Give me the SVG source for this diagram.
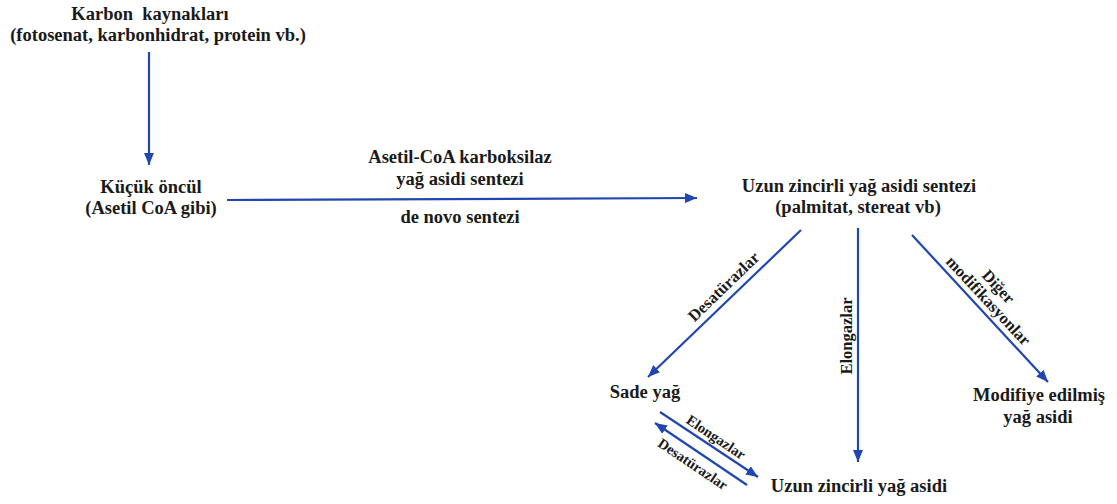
<svg xmlns="http://www.w3.org/2000/svg" width="1117" height="504" viewBox="0 0 1117 504">
<defs>
<style>
text{font-family:'Liberation Serif','DejaVu Serif',serif;font-weight:bold;fill:#1a1a1a;text-anchor:middle}
.t{font-size:18.5px}
.l{font-size:16.5px}
.s{font-size:14.5px}
.c{stroke:#2047b0;stroke-width:2.2;fill:none;marker-end:url(#ah)}
</style>
<marker id="ah" viewBox="0 0 12 10" refX="12" refY="5" markerWidth="12" markerHeight="10" markerUnits="userSpaceOnUse" orient="auto">
<path d="M0,0 L12,5 L0,10 Z" fill="#2047b0"/>
</marker>
</defs>
<rect width="1117" height="504" fill="#ffffff"/>
<g id="connectors">
<line class="c" x1="149" y1="52" x2="149" y2="165"/>
<line class="c" x1="227" y1="200" x2="697" y2="198"/>
<line class="c" x1="801" y1="230" x2="648" y2="377"/>
<line class="c" x1="858" y1="228" x2="858" y2="462"/>
<line class="c" x1="912" y1="235" x2="1048" y2="382"/>
<line class="c" x1="660" y1="412" x2="758" y2="477"/>
<line class="c" x1="747" y1="485" x2="655" y2="423"/>
</g>
<g id="labels" font-family="Liberation Serif, DejaVu Serif, serif">
<text class="t" x="460" y="163">Asetil-CoA karboksilaz</text>
<text class="t" x="460" y="185">yağ asidi sentezi</text>
<text class="t" x="460" y="223">de novo sentezi</text>
<text class="l" transform="translate(724,287) rotate(-44)" y="5">Desatürazlar</text>
<text class="l" transform="translate(847,336) rotate(-90)" y="5">Elongazlar</text>
<text class="l" transform="translate(998,287) rotate(47)" y="5">Diğer</text>
<text class="l" transform="translate(988,301) rotate(47)" y="5">modifikasyonlar</text>
<text class="s" transform="translate(716,437) rotate(34)" y="5">Elongazlar</text>
<text class="s" transform="translate(693,464) rotate(34)" y="5">Desatürazlar</text>
</g>
<g id="karbon">
<text class="t" x="150" y="20" xml:space="preserve">Karbon  kaynakları</text>
<text class="t" x="158" y="41">(fotosenat, karbonhidrat, protein vb.)</text>
</g>
<g id="kucuk">
<text class="t" x="151" y="193">Küçük öncül</text>
<text class="t" x="151" y="214">(Asetil CoA gibi)</text>
</g>
<g id="uzun-sentez">
<text class="t" x="859" y="192">Uzun zincirli yağ asidi sentezi</text>
<text class="t" x="858" y="213">(palmitat, stereat vb)</text>
</g>
<g id="sade">
<text class="t" x="645" y="398">Sade yağ</text>
</g>
<g id="uzun">
<text class="t" x="859" y="492">Uzun zincirli yağ asidi</text>
</g>
<g id="modifiye">
<text class="t" x="1039" y="401">Modifiye edilmiş</text>
<text class="t" x="1038" y="423">yağ asidi</text>
</g>
</svg>
